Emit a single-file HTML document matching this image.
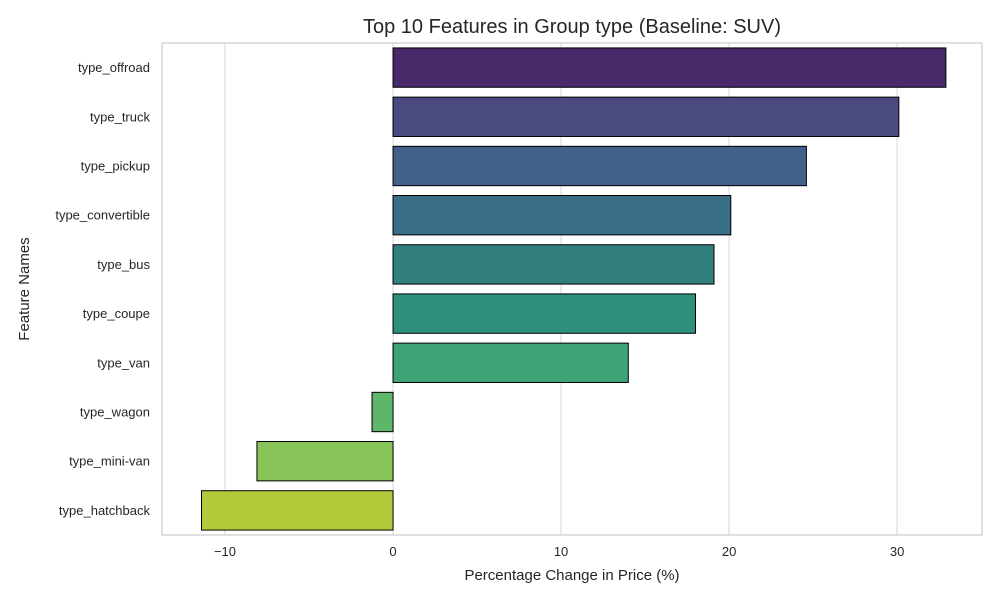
<!DOCTYPE html>
<html><head><meta charset="utf-8"><style>
body{margin:0;background:#fff;font-family:"Liberation Sans",sans-serif}
</style></head><body>
<svg id="chart" width="1000" height="600" xmlns="http://www.w3.org/2000/svg"></svg>
<script>
const categories=["type_offroad","type_truck","type_pickup","type_convertible","type_bus","type_coupe","type_van","type_wagon","type_mini-van","type_hatchback"];
const values=[32.9,30.1,24.6,20.1,19.1,18.0,14.0,-1.25,-8.1,-11.4];
const colors=["#482a6b","#4a4a80","#43608a","#3a6e86","#327f80","#2e8f7c","#3ea377","#5db66a","#89c45a","#b3c93a"];
const xTicks=[-10,0,10,20,30];
const X0=162,X1=982,Y0=43,Y1=535,xmin=-13.75,xmax=35.05;
const sx=v=>X0+(v-xmin)/(xmax-xmin)*(X1-X0);
const band=(Y1-Y0)/categories.length;
const svg=document.getElementById('chart');
const NS='http://www.w3.org/2000/svg';
function add(tag,attrs,text){const e=document.createElementNS(NS,tag);for(const k in attrs)e.setAttribute(k,attrs[k]);if(text!==undefined)e.textContent=text;svg.appendChild(e);return e;}
xTicks.forEach(t=>{
 const g=add('line',{x1:sx(t),x2:sx(t),y1:Y0,y2:Y1,stroke:'#dcdcdc','stroke-width':1.2});
 
 
 const l=add('text',{x:sx(t),y:Y1+21,'text-anchor':'middle','font-size':13,fill:'#262626'},t<0?'\u2212'+(-t):String(t));
 
 
});
categories.forEach((c,i)=>{
 const cy=Y0+band*(i+0.5),h=band*0.8,v=values[i];
 const r=add('rect',{x:Math.min(sx(0),sx(v)),y:cy-h/2,width:Math.abs(sx(v)-sx(0)),height:h,fill:colors[i],stroke:'#000','stroke-width':1});
 
 
 const l=add('text',{x:X0-12,y:cy+4.5,'text-anchor':'end','font-size':13,fill:'#262626'},c);
 
 
});
const f=add('rect',{x:X0,y:Y0,width:X1-X0,height:Y1-Y0,fill:'none',stroke:'#cccccc','stroke-width':1.2});


const t=add('text',{x:(X0+X1)/2,y:33,'text-anchor':'middle','font-size':20,fill:'#262626'},'Top 10 Features in Group type (Baseline: SUV)');


const xt=add('text',{x:(X0+X1)/2,y:580,'text-anchor':'middle','font-size':15,fill:'#262626'},'Percentage Change in Price (%)');


const yt=add('text',{x:29,y:289,'text-anchor':'middle','font-size':15,fill:'#262626',transform:'rotate(-90 29 289)'},'Feature Names');


</script>
</body></html>
